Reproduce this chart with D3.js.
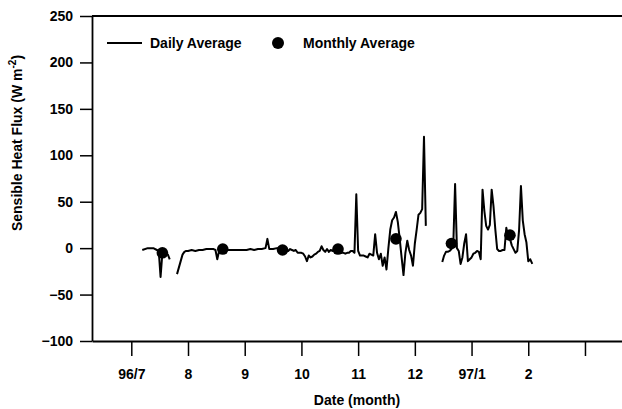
<!DOCTYPE html>
<html>
<head>
<meta charset="utf-8">
<script src="https://cdn.jsdelivr.net/npm/d3@7"></script>
<style>
  html, body { margin: 0; padding: 0; background: #fff; }
  svg { display: block; }
  text { font-family: "Liberation Sans", Arial, Helvetica, sans-serif; font-weight: bold; fill: #000; }
</style>
</head>
<body>
<svg id="chart" width="622" height="409"></svg>
<script>
// Daily average sensible heat flux (W m^-2); null marks a gap in the record
const dailyDates = [
  "1996-07-07","1996-07-10","1996-07-13","1996-07-15","1996-07-16","1996-07-17","1996-07-18","1996-07-19","1996-07-20","1996-07-21","1996-07-22",
  "1996-07-24",
  "1996-07-26","1996-07-29","1996-07-30","1996-07-31",
  "1996-08-01","1996-08-03","1996-08-05","1996-08-07","1996-08-09","1996-08-11","1996-08-13","1996-08-15","1996-08-16","1996-08-17","1996-08-18","1996-08-19","1996-08-21","1996-08-23","1996-08-25","1996-08-27","1996-08-29","1996-08-31",
  "1996-09-02","1996-09-04","1996-09-06","1996-09-08","1996-09-10","1996-09-12","1996-09-13","1996-09-14","1996-09-16","1996-09-18","1996-09-20","1996-09-22","1996-09-23","1996-09-24","1996-09-25","1996-09-26","1996-09-27","1996-09-28","1996-09-29","1996-09-30",
  "1996-10-01","1996-10-02","1996-10-03","1996-10-04","1996-10-05","1996-10-06","1996-10-07","1996-10-08","1996-10-09","1996-10-10","1996-10-11","1996-10-12","1996-10-13","1996-10-14","1996-10-15","1996-10-16","1996-10-17","1996-10-18","1996-10-19","1996-10-20","1996-10-21","1996-10-22","1996-10-23","1996-10-24","1996-10-25","1996-10-26","1996-10-27","1996-10-28","1996-10-29","1996-10-30","1996-10-31",
  "1996-11-01","1996-11-02","1996-11-03","1996-11-04","1996-11-05","1996-11-06","1996-11-07","1996-11-08","1996-11-09","1996-11-10","1996-11-11","1996-11-12","1996-11-13","1996-11-14","1996-11-15","1996-11-16","1996-11-17","1996-11-18","1996-11-19","1996-11-20","1996-11-21","1996-11-22","1996-11-23","1996-11-24","1996-11-25","1996-11-26","1996-11-27","1996-11-28","1996-11-29","1996-11-30",
  "1996-12-01","1996-12-02","1996-12-03","1996-12-04","1996-12-05","1996-12-06","1996-12-07",
  "1996-12-10",
  "1996-12-16","1996-12-17","1996-12-18","1996-12-19","1996-12-20","1996-12-21","1996-12-22","1996-12-23","1996-12-24","1996-12-25","1996-12-26","1996-12-27","1996-12-28","1996-12-29","1996-12-30","1996-12-31",
  "1997-01-01","1997-01-02","1997-01-03","1997-01-04","1997-01-05","1997-01-06","1997-01-07","1997-01-08","1997-01-09","1997-01-10","1997-01-11","1997-01-12","1997-01-13","1997-01-14","1997-01-15","1997-01-16","1997-01-17","1997-01-18","1997-01-19","1997-01-20","1997-01-21","1997-01-22","1997-01-23","1997-01-24","1997-01-25","1997-01-26","1997-01-27","1997-01-28","1997-01-29","1997-01-30","1997-01-31",
  "1997-02-01","1997-02-02","1997-02-03"
];
const dailyFlux = [
  -2, 0, 0, -2, -3, -31, -5, -6, -6, -7, -12,
  null,
  -28, -7, -4, -3,
  -3, -2, -3, -2, -2, -1, -1, -1, -2, -12, -3, -1, -1, -2, -2, -2, -2, -2,
  -2, -1, -2, -1, -1, 0, 10, -1, -1, 0, 0, -1, -2, -3, -1, -2, -3, -2, -5, -5,
  -5, -6, -9, -14, -8, -10, -9, -7, -6, -4, -3, 2, -2, -4, -1, -4, -2, -3, -1, -1, 0, -3, -5, -5, -6, -5, -5, -3, -3, -5, 58,
  -3, -8, -8, -8, -9, -10, -6, -7, -8, 15, -5, -12, -6, -19, -10, -23, 0, 20, 30, 33, 39, 28, 10, -10, -29, -5, 8, -2, -8, -19,
  5, 20, 36, 38, 42, 120, 24,
  null,
  -15, -8, -4, -4, -3, -1, 3, 69, 0, -3, -17, -10, 5, 15, -14, -12,
  -10, -6, -5, -3, -4, -12, 63, 40, 24, 20, 25, 63, 45, 20, -1, -3, -3, -2, -2, 22, 12, 10, 3, -1, -5, -3, 20, 67, 30, 15, 6,
  -14, -12, -17
];

// Monthly average sensible heat flux
const monthlyDates = ["1996-07-18","1996-08-20","1996-09-21","1996-10-21","1996-11-21","1996-12-21","1997-01-22"];
const monthlyFlux = [-5, -1, -2, -1, 10, 5, 14];

// Axis ticks
const monthTicks = [0, 1, 2, 3, 4, 5, 6, 7, 8];
const monthLabels = ["96/7", "8", "9", "10", "11", "12", "97/1", "2", ""];
const fluxTicks = [-100, -50, 0, 50, 100, 150, 200, 250];

// Each month takes an equal share of the time axis; 0 = start of July 1996
function monthPos(s) {
  const [yr, mo, dy] = s.split("-").map(Number);
  const days = new Date(yr, mo, 0).getDate();
  return (yr - 1996) * 12 + (mo - 7) + (dy - 1) / days;
}

const svg = d3.select("#chart");
const plotLeft = 92, plotRight = 622, plotTop = 16, plotBottom = 341;

const x = d3.scaleLinear().domain([-0.693, 8.653]).range([plotLeft, plotRight]);
const y = d3.scaleLinear().domain([-100, 250]).range([plotBottom, plotTop]);

// Frame: top edge
svg.append("line")
  .attr("x1", plotLeft).attr("x2", plotRight).attr("y1", plotTop).attr("y2", plotTop)
  .attr("stroke", "#000").attr("stroke-width", 1.8);

// Y axis
const yAxis = svg.append("g")
  .attr("transform", `translate(${plotLeft},0)`)
  .call(d3.axisLeft(y).tickValues(fluxTicks).tickSize(12).tickSizeOuter(0).tickPadding(7));
// X axis
const xAxis = svg.append("g")
  .attr("transform", `translate(0,${plotBottom})`)
  .call(d3.axisBottom(x).tickValues(monthTicks).tickFormat((d, i) => monthLabels[i])
    .tickSize(15).tickSizeOuter(0).tickPadding(13));

[yAxis, xAxis].forEach(g => {
  g.selectAll("path.domain").attr("stroke", "#000").attr("stroke-width", 1.8);
  g.selectAll(".tick line").attr("stroke", "#000").attr("stroke-width", 1.5);
  g.selectAll(".tick text").attr("font-size", 14)
    .attr("font-family", "'Liberation Sans', Arial, Helvetica, sans-serif").attr("font-weight", "bold");
});

// Axis titles
svg.append("text")
  .attr("x", 357).attr("y", 405)
  .attr("text-anchor", "middle").attr("font-size", 14)
  .text("Date (month)");

const yTitle = svg.append("text")
  .attr("transform", "translate(22,143) rotate(-90)")
  .attr("text-anchor", "middle").attr("font-size", 14);
yTitle.append("tspan").text("Sensible Heat Flux (W m");
yTitle.append("tspan").attr("dy", -6).attr("font-size", 10).text("-2");
yTitle.append("tspan").attr("dy", 6).text(")");

// Daily series
const daily = dailyDates.map((d, i) => ({ m: monthPos(d), v: dailyFlux[i] }));
const line = d3.line()
  .defined(d => d.v !== null)
  .x(d => x(d.m))
  .y(d => y(d.v));

svg.append("path")
  .datum(daily)
  .attr("d", line)
  .attr("fill", "none")
  .attr("stroke", "#000")
  .attr("stroke-width", 2)
  .attr("stroke-linejoin", "round");

// Monthly means
const monthly = monthlyDates.map((d, i) => ({ m: monthPos(d), v: monthlyFlux[i] }));
svg.append("g").selectAll("circle")
  .data(monthly)
  .join("circle")
  .attr("cx", d => x(d.m))
  .attr("cy", d => y(d.v))
  .attr("r", 5.8)
  .attr("fill", "#000");

// Legend
const legend = svg.append("g");
legend.append("line")
  .attr("x1", 107).attr("x2", 142).attr("y1", 43).attr("y2", 43)
  .attr("stroke", "#000").attr("stroke-width", 1.8);
legend.append("text").attr("x", 150).attr("y", 48).attr("font-size", 14).text("Daily Average");
legend.append("circle").attr("cx", 278).attr("cy", 43).attr("r", 6).attr("fill", "#000");
legend.append("text").attr("x", 303).attr("y", 48).attr("font-size", 14).text("Monthly Average");
</script>
</body>
</html>
